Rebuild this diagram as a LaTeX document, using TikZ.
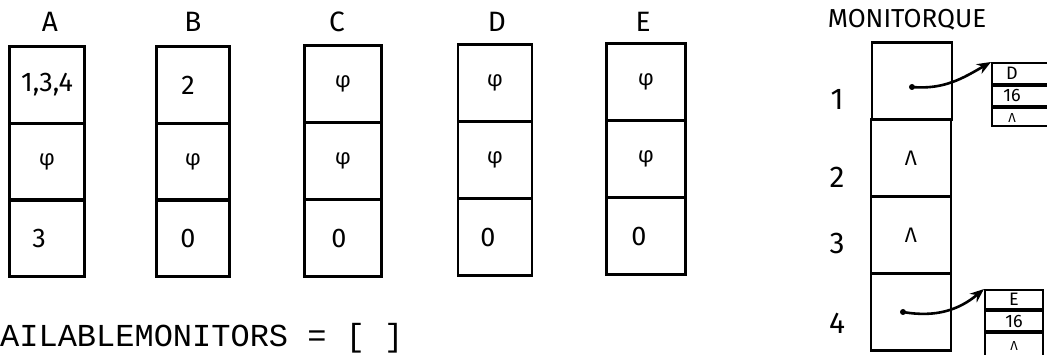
\documentclass[tikz,border=0pt]{standalone}
\usepackage{fontspec}
\setmainfont{Fira Sans}
\newfontfamily\monofont{Liberation Mono}
\usetikzlibrary{arrows.meta}
\begin{document}
\begin{tikzpicture}[x=1pt,y=-1pt,
  cell/.style={draw,line width=2.6pt,minimum width=#1,minimum height=77pt,inner sep=0pt,font=\fontsize{27}{29}\selectfont},
  cell/.default=75pt,
  phi/.style={font=\fontsize{22}{23}\selectfont},
  colname/.style={font=\fontsize{28}{30}\selectfont,inner sep=0pt},
  mcell/.style={draw,line width=2.6pt,minimum width=80pt,minimum height=77pt,inner sep=0pt,font=\fontsize{21}{22}\selectfont},
  rowlab/.style={font=\fontsize{30}{32}\selectfont,inner sep=0pt},
  small/.style={draw,line width=2pt,minimum height=#1,inner sep=0pt,text height=12pt,text depth=0pt,font=\fontsize{18}{19}\selectfont},
  ptr/.style={line width=2.6pt,-{Stealth[length=14pt,width=11pt]}},
  dot/.style={circle,fill,inner sep=0pt,minimum size=6pt}]
\useasboundingbox (0,0) rectangle (1047,355);
\clip (0,0) rectangle (1047,355);
% column labels
\node[colname] (lA) at (50,22) {A};
\node[colname] (lB) at (193,22) {B};
\node[colname] (lC) at (337,22) {C};
\node[colname] (lD) at (497,22) {D};
\node[colname] (lE) at (643,22) {E};
% column A
\node[cell] (A1) at (47,85) {1,3,4};
\node[cell,phi] (A2) at (47,162) {φ};
\node[cell] (A3) at (47,238) {\hspace*{-16pt}3};
% column B
\node[cell=73pt] (B1) at (193,85) {\hspace*{-10pt}2};
\node[cell=73pt,phi] (B2) at (193,162) {φ};
\node[cell=73pt] (B3) at (193,238) {\hspace*{-10pt}0};
% column C
\node[cell=77pt,phi] (C1) at (343,84) {φ};
\node[cell=77pt,phi] (C2) at (343,161) {φ};
\node[cell=77pt] (C3) at (343,238) {\hspace*{-8pt}0};
% column D
\node[cell=74pt,phi] (D1) at (495,83) {φ};
\node[cell=74pt,phi] (D2) at (495,160) {φ};
\node[cell=74pt] (D3) at (495,237) {\hspace*{-14pt}0};
% column E
\node[cell=79pt,phi] (E1) at (646,82) {φ};
\node[cell=79pt,phi] (E2) at (646,159) {φ};
\node[cell=79pt] (E3) at (646,236) {\hspace*{-14pt}0};
% MONITORQUE
\node[colname,font=\fontsize{26}{28}\selectfont] (mq) at (907,20) {MONITORQUE};
\node[mcell] (M1) at (912,81) {};
\node[mcell] (M2) at (911,158) {Λ};
\node[mcell] (M3) at (911,235) {Λ};
\node[mcell] (M4) at (911,312) {};
\node[rowlab] (n1) at (837,99) {1};
\node[rowlab] (n2) at (837,177) {2};
\node[rowlab] (n3) at (837,243) {3};
\node[rowlab] (n4) at (837,323) {4};
% small record boxes
\node[small=21pt,minimum width=70pt,anchor=north west] (d1) at (991,62) {\hspace*{-30pt}D};
\node[small=20pt,minimum width=70pt,anchor=north west] (d2) at (d1.south west) {\hspace*{-30pt}16};
\node[small=18pt,minimum width=70pt,anchor=north west] (d3) at (d2.south west) {\hspace*{-30pt}\fontsize{13}{14}\selectfont Λ};
\node[small=19pt,minimum width=58pt,anchor=north west] (e1) at (984,289) {E};
\node[small=20pt,minimum width=58pt,anchor=north west] (e2) at (e1.south west) {16};
\node[small=23pt,minimum width=58pt,anchor=north west] (e3) at (e2.south west) {\fontsize{13}{14}\selectfont Λ};
% pointers
\node[dot] (p1) at (912,87) {};
\node[dot] (p4) at (903,312) {};
\draw[ptr] (p1.center) to[out=-5,in=210] (d1.north west);
\draw[ptr] (p4.center) to[out=-10,in=220] (e1.north west);
% bottom text
\node[anchor=base west,inner sep=0pt,font=\monofont\fontsize{32}{33}\selectfont] (av) at (0,346) {AILABLEMONITORS = [ ]};
\end{tikzpicture}
\end{document}
